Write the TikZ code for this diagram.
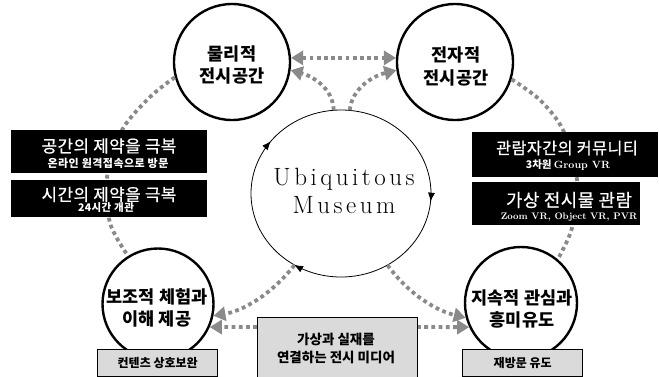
\documentclass[tikz,border=0pt]{standalone}
\usepackage{fontspec}
\newfontfamily\kr{Noto Sans CJK KR}
\newfontfamily\krs{Noto Sans CJK KR}[LetterSpace=3,FakeBold=0.7]
\newfontfamily\krsub{Noto Sans CJK KR}[LetterSpace=4]
\newfontfamily\ubifont{Latin Modern Roman}[LetterSpace=14]
\usetikzlibrary{arrows.meta,decorations.markings,shapes.geometric}
\definecolor{dotgray}{HTML}{8A8A8A}
\definecolor{boxgray}{HTML}{DADADA}
\begin{document}
\begin{tikzpicture}[x=1pt,y=-1pt,
  ring/.style={circle,draw=black,line width=2.4pt,fill=white,inner sep=0pt},
  ctext/.style={font=\kr\bfseries\fontsize{17.5}{22.5}\selectfont,align=center,inner sep=0pt},
  dotl/.style={draw=dotgray,line width=3.8pt,dash pattern=on 3.8pt off 3.4pt},
  gtip/.style={-{Triangle[length=12pt,width=14pt]}},
  gtips/.style={{Triangle[length=12pt,width=14pt]}-{Triangle[length=12pt,width=14pt]}},
  blackbox/.style={fill=black,inner sep=0pt,anchor=north west},
  wtitle/.style={text=white,inner sep=0pt},
  wsub/.style={text=white,font=\krsub\bfseries\fontsize{11}{12}\selectfont,inner sep=0pt},
  graybox/.style={fill=boxgray,draw=black,line width=1.4pt,inner sep=0pt,anchor=north west},
  gtext/.style={font=\kr\bfseries\fontsize{12}{14}\selectfont,inner sep=0pt,align=center},
]
\path[use as bounding box] (0,0) rectangle (659,376);

% nodes: circles
\node[ring,minimum size=116pt] (phys) at (232,62) {};
\node[ring,minimum size=116pt] (elec) at (455,62) {};
\node[ring,minimum size=111pt] (sup) at (158,304) {};
\node[ring,minimum size=112pt] (cont) at (521,303) {};
\node[ellipse,minimum width=180pt,minimum height=167pt,inner sep=0pt] (mus) at (341,193.5) {};

% central ring with clockwise arrows
\draw[line width=0.8pt,
  decoration={markings,
    mark=at position 0.015 with {\arrow{Latex[length=9pt,width=7pt]}},
    mark=at position 0.34 with {\arrow{Latex[length=9pt,width=7pt]}},
    mark=at position 0.605 with {\arrow{Latex[length=9pt,width=7pt]}}},
  postaction={decorate}] (mus.center) ellipse [x radius=90, y radius=83.5];

% big dotted arcs (partly hidden by boxes)
\draw[dotl] plot[smooth] coordinates {(phys.195) (150,97) (122,130) (107,177) (110,223) (sup.122)};
\draw[dotl] plot[smooth] coordinates {(elec.-17) (540,100) (563,130) (577,180) (572,228) (cont.50)};

% top connectors
\draw[dotl,gtips] (phys.4) -- (elec.176);
\draw[dotl,gtip] (mus.95) .. controls (333,88) and (312,76) .. (phys.-8);
\draw[dotl,gtip] (mus.84) .. controls (352,88) and (373,76) .. (elec.188);

% bottom connectors
\coordinate (hl) at (257,327);
\coordinate (hr) at (417,327);
\draw[dotl,gtip] (mus.237) .. controls (270,296) and (242,311) .. (sup.-12);
\draw[dotl,gtip] (hl) -- (sup.-24);
\draw[dotl,gtip] (mus.-57) .. controls (410,296) and (438,311) .. (cont.195);
\draw[dotl,gtip] (hr) -- (cont.205);

% circle texts
\node[ctext] at (232,65) {물리적\\전시공간};
\node[ctext] at (456,66.5) {전자적\\전시공간};
\node[ctext] at (157,308) {보조적 체험과\\이해 제공};
\node[ctext] at (522,309) {지속적 관심과\\흥미유도};

% center text
\node[font=\ubifont\fontsize{25}{28}\selectfont,align=center,inner sep=0pt] (ubi) at (344,191) {Ubiquitous\\Museum};

% left black boxes
\node[blackbox,minimum width=196pt,minimum height=43pt] (lb1) at (11,130) {};
\node[blackbox,minimum width=196pt,minimum height=37pt] (lb2) at (11,180) {};
\node[wtitle,font=\krs\fontsize{16.8}{18}\selectfont] at (109,146) {공간의 제약을 극복};
\node[wsub] at (108,163) {온라인 원격접속으로 방문};
\node[wtitle,font=\krs\fontsize{16.8}{18}\selectfont] at (109,194.5) {시간의 제약을 극복};
\node[wsub,font=\krsub\bfseries\fontsize{10.5}{12}\selectfont] at (106,208) {24시간 개관};

% right black boxes
\node[blackbox,minimum width=186pt,minimum height=45pt] (rb1) at (472,132) {};
\node[blackbox,minimum width=168pt,minimum height=43pt] (rb2) at (472,182) {};
\node[wtitle,font=\krs\fontsize{16.2}{19}\selectfont] at (567,148) {관람자간의 커뮤니티};
\node[wsub,font=\kr\bfseries\fontsize{10.5}{12}\selectfont] at (568,165) {3차원 {\rmfamily Group VR}};
\node[wtitle,font=\krs\fontsize{17.8}{19}\selectfont] at (569,200) {가상 전시물 관람};
\node[wsub,font=\rmfamily\bfseries\fontsize{9.5}{12}\selectfont] at (569,217) {Zoom VR, Object VR, PVR};

% gray boxes
\node[graybox,minimum width=160pt,minimum height=62pt] (mid) at (257,317) {};
\node[gtext,font=\kr\bfseries\fontsize{13.5}{18}\selectfont] at (336,348) {가상과 실재를\\연결하는 전시 미디어};
\node[graybox,minimum width=120pt,minimum height=27pt] (lbox) at (97,349) {};
\node[gtext] at (lbox.center) {컨텐츠 상호보완};
\node[graybox,minimum width=120pt,minimum height=27pt] (rbox) at (462,349) {};
\node[gtext] at (rbox.center) {재방문 유도};
\end{tikzpicture}
\end{document}
